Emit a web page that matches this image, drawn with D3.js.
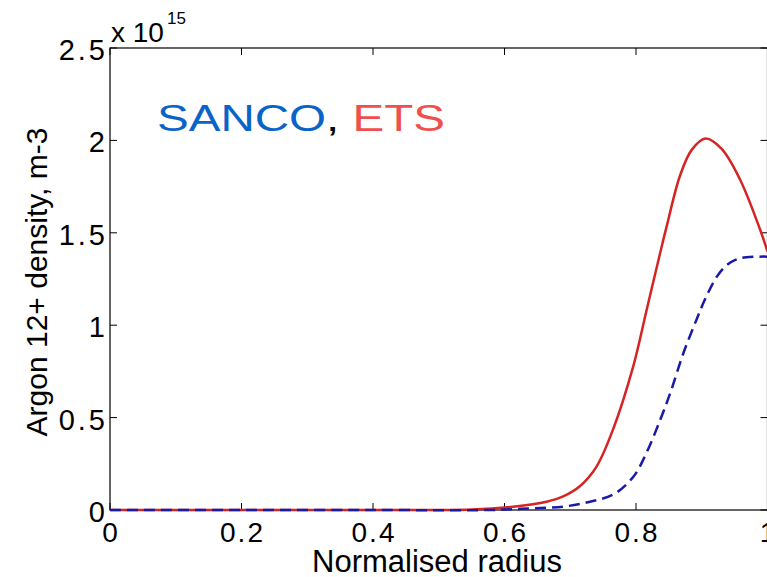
<!DOCTYPE html>
<html>
<head>
<meta charset="utf-8">
<script src="https://cdn.jsdelivr.net/npm/d3@7"></script>
<style>
  body { margin: 0; background: #fff; }
  svg { display: block; font-family: "Liberation Sans", Arial, sans-serif; }
</style>
</head>
<body>
<div id="chart"></div>
<script>
// values in units of 1e15 m-3
const etsRadius = [0, 0.2, 0.4, 0.55, 0.613, 0.664, 0.69, 0.715, 0.74, 0.7655, 0.796, 0.816, 0.836, 0.847, 0.867, 0.885, 0.906, 0.93, 0.958, 0.989, 1.0];
const etsDensity = [0, 0, 0, 0.003, 0.018, 0.045, 0.075, 0.13, 0.235, 0.44, 0.78, 1.08, 1.38, 1.54, 1.81, 1.95, 2.01, 1.955, 1.79, 1.515, 1.398];
const sancoRadius = [0, 0.2, 0.4, 0.58, 0.639, 0.689, 0.73, 0.766, 0.796, 0.816, 0.836, 0.852, 0.872, 0.892, 0.905, 0.923, 0.938, 0.952, 0.968, 1.0];
const sancoDensity = [0, 0, 0, 0, 0.009, 0.018, 0.045, 0.085, 0.18, 0.31, 0.48, 0.632, 0.848, 1.03, 1.14, 1.263, 1.325, 1.355, 1.368, 1.371];
const xTicks = [0, 0.2, 0.4, 0.6, 0.8, 1];
const yTicks = [0, 0.5, 1, 1.5, 2, 2.5];

const width = 767, height = 577;
const mLeft = 110, mRight = 767.5, mTop = 48, mBottom = 510;

const svg = d3.select("#chart").append("svg")
  .attr("width", width)
  .attr("height", height);

const x = d3.scaleLinear().domain([0, 1]).range([mLeft, mRight]);
const y = d3.scaleLinear().domain([0, 2.5]).range([mBottom, mTop]);

// box + inward ticks
svg.append("rect")
  .attr("x", mLeft).attr("y", mTop)
  .attr("width", mRight - mLeft).attr("height", mBottom - mTop)
  .attr("fill", "none").attr("stroke", "#000").attr("stroke-width", 1.2);

const tl = 7;
svg.selectAll(".xtb").data(xTicks).join("line")
  .attr("x1", d => x(d)).attr("x2", d => x(d))
  .attr("y1", mBottom).attr("y2", mBottom - tl)
  .attr("stroke", "#000");
svg.selectAll(".xtt").data(xTicks).join("line")
  .attr("x1", d => x(d)).attr("x2", d => x(d))
  .attr("y1", mTop).attr("y2", mTop + tl)
  .attr("stroke", "#000");
svg.selectAll(".ytl").data(yTicks).join("line")
  .attr("x1", mLeft).attr("x2", mLeft + tl)
  .attr("y1", d => y(d)).attr("y2", d => y(d))
  .attr("stroke", "#000");
svg.selectAll(".ytr").data(yTicks).join("line")
  .attr("x1", mRight).attr("x2", mRight - tl)
  .attr("y1", d => y(d)).attr("y2", d => y(d))
  .attr("stroke", "#000");

// tick labels
svg.selectAll(".xl").data(xTicks).join("text")
  .attr("x", d => x(d) + 1).attr("y", mBottom + 32)
  .attr("text-anchor", "middle")
  .attr("font-size", 28)
  .attr("letter-spacing", 2)
  .text(d => d3.format("~g")(d));
svg.selectAll(".yl").data(yTicks).join("text")
  .attr("x", mLeft - 2).attr("y", d => y(d) + 12)
  .attr("text-anchor", "end")
  .attr("font-size", 29)
  .attr("letter-spacing", 3)
  .text(d => d3.format("~g")(d));

// exponent
const ex = svg.append("text").attr("x", mLeft + 1).attr("y", 42).attr("font-size", 28);
ex.append("tspan").text("x 10");
ex.append("tspan").attr("dx", 3).attr("dy", -18).attr("font-size", 17).text("15");

// axis labels
svg.append("text")
  .attr("x", 437).attr("y", 572)
  .attr("text-anchor", "middle").attr("font-size", 31)
  .text("Normalised radius");
svg.append("text")
  .attr("transform", `translate(47,282) rotate(-90)`)
  .attr("text-anchor", "middle").attr("font-size", 30)
  .text("Argon 12+ density, m-3");

// curves
const line = d3.line().x(d => x(d[0])).y(d => y(d[1])).curve(d3.curveCatmullRom.alpha(0.5));
svg.append("path")
  .datum(d3.zip(etsRadius, etsDensity))
  .attr("d", line)
  .attr("fill", "none").attr("stroke", "#d42424").attr("stroke-width", 2.5);
svg.append("path")
  .datum(d3.zip(sancoRadius, sancoDensity))
  .attr("d", line)
  .attr("fill", "none").attr("stroke", "#1a1aa6").attr("stroke-width", 2.5)
  .attr("stroke-dasharray", "11,6");

// legend-like title
const lg = svg.append("text").attr("x", 157).attr("y", 131).attr("font-size", 37)
  .attr("textLength", 288).attr("lengthAdjust", "spacingAndGlyphs");
lg.append("tspan").attr("fill", "#0a64c8").text("SANCO");
lg.append("tspan").attr("fill", "#000").text(", ");
lg.append("tspan").attr("fill", "#f04f4f").text("ETS");
</script>
</body>
</html>
